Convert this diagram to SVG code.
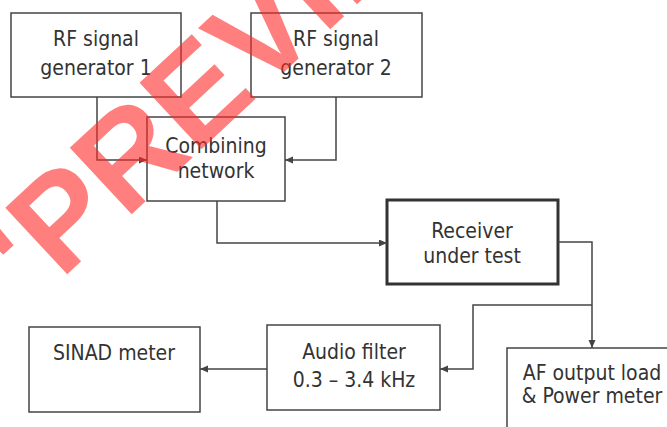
<svg xmlns="http://www.w3.org/2000/svg" width="667" height="427" viewBox="0 0 667 427">
<style>
.box{fill:#fff;stroke:#444;stroke-width:1.5}
.thick{stroke:#333;stroke-width:3}
.lbl{font-family:"DejaVu Sans Condensed","DejaVu Sans",sans-serif;font-stretch:condensed;font-size:21px;fill:#333;text-anchor:middle}
.wire{fill:none;stroke:#444;stroke-width:1.5}
.wm{font-family:"Liberation Sans",Arial,sans-serif;font-weight:bold;font-size:132px;fill:#ff2a2a;fill-opacity:0.6}
</style>
<defs>
<marker id="arr" markerUnits="userSpaceOnUse" markerWidth="9" markerHeight="8" refX="8" refY="3.5" orient="auto">
<path d="M0,0 L8,3.5 L0,7 z" fill="#444"/>
</marker>
</defs>
<rect width="667" height="427" fill="#fff"/>
<g id="gen1"><rect class="box" x="11" y="13" width="170" height="84"/><text class="lbl" x="96" y="46">RF signal</text><text class="lbl" x="96" y="75">generator 1</text></g>
<g id="gen2"><rect class="box" x="251" y="13" width="171" height="84"/><text class="lbl" x="336" y="46">RF signal</text><text class="lbl" x="336" y="75">generator 2</text></g>
<g id="combining"><rect class="box" x="147" y="117" width="138" height="84"/><text class="lbl" x="216" y="153">Combining</text><text class="lbl" x="216" y="178">network</text></g>
<g id="receiver"><rect class="box thick" x="387" y="200" width="171" height="84"/><text class="lbl" x="472" y="238">Receiver</text><text class="lbl" x="472" y="263">under test</text></g>
<g id="sinad"><rect class="box" x="29" y="327" width="171" height="85"/><text class="lbl" x="114" y="360">SINAD meter</text></g>
<g id="audio"><rect class="box" x="267" y="325" width="173" height="85"/><text class="lbl" x="354" y="359">Audio filter</text><text class="lbl" x="354" y="387">0.3 – 3.4 kHz</text></g>
<g id="afout"><rect class="box" x="507" y="348" width="175" height="90"/><text class="lbl" x="592" y="380">AF output load</text><text class="lbl" x="592" y="403">&amp; Power meter</text></g>
<g id="connectors">
<path class="wire" d="M97,97 V160 H147" marker-end="url(#arr)"/>
<path class="wire" d="M336,97 V160 H285" marker-end="url(#arr)"/>
<path class="wire" d="M217,201 V243 H387" marker-end="url(#arr)"/>
<path class="wire" d="M558,242 H592 V348" marker-end="url(#arr)"/>
<path class="wire" d="M592,305 H473 V369 H440" marker-end="url(#arr)"/>
<path class="wire" d="M267,369 H200" marker-end="url(#arr)"/>
</g>
<text class="wm" transform="translate(15,323) rotate(-43)">"PREVIEW"</text>
</svg>
